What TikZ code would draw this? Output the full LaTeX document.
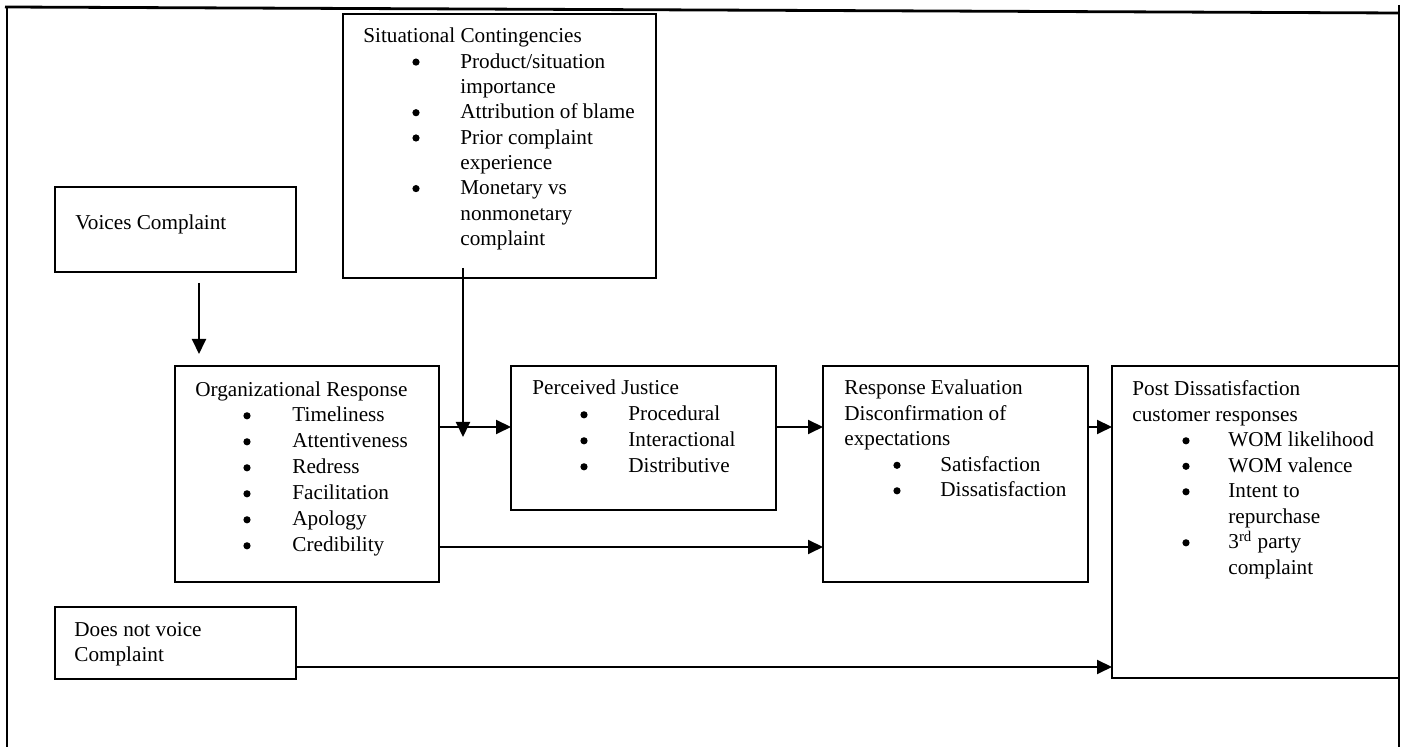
\documentclass[tikz,border=0pt]{standalone}
\usepackage{fontspec}
\setmainfont{Liberation Serif}
\usetikzlibrary{arrows.meta}

\begin{document}
\begin{tikzpicture}[x=0.5pt,y=-0.5pt,
  box/.style={draw=black,line width=1pt,inner sep=0pt,outer sep=0pt,anchor=north west},
  txt/.style={anchor=base west,inner sep=0pt,font=\fontsize{10.6pt}{12.9pt}\selectfont},
  dot/.style={circle,fill=black,inner sep=0pt,minimum size=3.6pt,yshift=3.1pt},
  arr/.style={draw=black,line width=1pt,-{Triangle[length=7.5pt,width=7pt]}},
  frame/.style={draw=black,line width=1.4pt}]
\useasboundingbox (0,0) rectangle (1405,747);

% page frame
\draw[frame] (5,7) -- (1399,13);
\draw[frame] (7,7) -- (7,747);
\draw[frame] (1399,5) -- (1399,747);

% boxes
\node[box,minimum width=156.5pt,minimum height=132pt] (sit) at (343,14) {};
\node[box,minimum width=120.5pt,minimum height=42.5pt] (voices) at (55,187) {};
\node[box,minimum width=132pt,minimum height=108pt] (org) at (175,366) {};
\node[box,minimum width=120.5pt,minimum height=36pt] (dnv) at (55,607) {};
\node[box,minimum width=132.5pt,minimum height=72pt] (pj) at (511,366) {};
\node[box,minimum width=132.5pt,minimum height=108pt] (re) at (823,366) {};
\node[box,minimum width=143.5pt,minimum height=156pt] (post) at (1112,366) {};

% Situational Contingencies
\node[txt] (sit0) at (363,43) {Situational Contingencies};
\node[dot] (sitb1) at (416,68.3) {};
\node[txt] (sit1) at (460,68.3) {Product/situation};
\node[txt] (sit2) at (460,93.6) {importance};
\node[dot] (sitb2) at (416,118.9) {};
\node[txt] (sit3) at (460,118.9) {Attribution of blame};
\node[dot] (sitb3) at (416,144.2) {};
\node[txt] (sit4) at (460,144.2) {Prior complaint};
\node[txt] (sit5) at (460,169.5) {experience};
\node[dot] (sitb4) at (416,194.8) {};
\node[txt] (sit6) at (460,194.8) {Monetary vs};
\node[txt] (sit7) at (460,220.1) {nonmonetary};
\node[txt] (sit8) at (460,245.4) {complaint};

% Voices Complaint
\node[txt] (voi0) at (75,230) {Voices Complaint};

% Organizational Response
\node[txt] (org0) at (195,397) {Organizational Response};
\foreach \t [count=\i] in {Timeliness,Attentiveness,Redress,Facilitation,Apology,Credibility}{
  \node[dot] (orgb\i) at (247,{396+26*\i}) {};
  \node[txt] (org\i) at (292,{396+26*\i}) {\t};
}

% Does not voice Complaint
\node[txt] (dnv0) at (74,637) {Does not voice};
\node[txt] (dnv1) at (74,662) {Complaint};

% Perceived Justice
\node[txt] (pj0) at (532,395) {Perceived Justice};
\foreach \t [count=\i] in {Procedural,Interactional,Distributive}{
  \node[dot] (pjb\i) at (584,{395+26*\i}) {};
  \node[txt] (pj\i) at (628,{395+26*\i}) {\t};
}

% Response Evaluation
\node[txt] (re0) at (844,395) {Response Evaluation};
\node[txt] (re1) at (844,420.5) {Disconfirmation of};
\node[txt] (re2) at (844,446) {expectations};
\node[dot] (reb1) at (897,471.5) {};
\node[txt] (re3) at (940,471.5) {Satisfaction};
\node[dot] (reb2) at (897,497) {};
\node[txt] (re4) at (940,497) {Dissatisfaction};

% Post Dissatisfaction customer responses
\node[txt] (po0) at (1132,396) {Post Dissatisfaction};
\node[txt] (po1) at (1132,421.5) {customer responses};
\node[dot] (pob1) at (1186,447) {};
\node[txt] (po2) at (1228,447) {WOM likelihood};
\node[dot] (pob2) at (1186,472.5) {};
\node[txt] (po3) at (1228,472.5) {WOM valence};
\node[dot] (pob3) at (1186,498) {};
\node[txt] (po4) at (1228,498) {Intent to};
\node[txt] (po5) at (1228,523.5) {repurchase};
\node[dot] (pob4) at (1186,549) {};
\node[txt] (po6) at (1228,549) {3\textsuperscript{rd} party};
\node[txt] (po7) at (1228,574.5) {complaint};

% reference coordinates for connector positions
\coordinate (vx) at (199,0);
\coordinate (sx) at (463,0);
\coordinate (join) at (463,437);
\coordinate (r1) at (0,427);
\coordinate (r2) at (0,547);
\coordinate (r3) at (0,667);

% connectors
\draw[arr,shorten <=5.5pt,shorten >=6pt] (voices.south -| vx) -- (org.north -| vx);
\draw[arr] ([yshift=5pt]sit.south -| sx) -- (join);
\draw[arr] (org.east |- r1) -- (pj.west |- r1);
\draw[arr] (pj.east |- r1) -- (re.west |- r1);
\draw[arr] (re.east |- r1) -- (post.west |- r1);
\draw[arr] (org.east |- r2) -- (re.west |- r2);
\draw[arr] (dnv.east |- r3) -- (post.west |- r3);
\end{tikzpicture}
\end{document}
